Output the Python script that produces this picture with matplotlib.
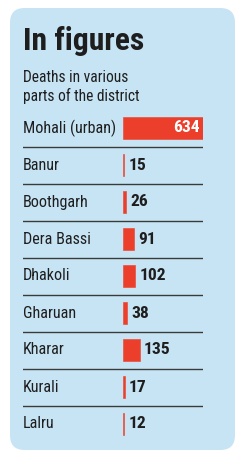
import matplotlib
matplotlib.use("Agg")
import matplotlib.pyplot as plt
from matplotlib.patches import FancyBboxPatch
from matplotlib import font_manager

districts = ["Mohali (urban)", "Banur", "Boothgarh", "Dera Bassi", "Dhakoli",
             "Gharuan", "Kharar", "Kurali", "Lalru"]
deaths = [634, 15, 26, 91, 102, 38, 135, 17, 12]
title = "In figures"
subtitle = ["Deaths in various", "parts of the district"]

# pick a condensed font if one is installed
entries = font_manager.fontManager.ttflist
names = {f.name for f in entries}
family = None
stretch = "normal"
for cand in ["Roboto Condensed", "Liberation Sans Narrow", "Open Sans Condensed",
             "Noto Sans Condensed", "DejaVu Sans Condensed"]:
    if cand in names:
        family = cand
        break
if family is None:
    cond = [f for f in entries if str(f.stretch) in ("condensed", "semi-condensed")
            or (isinstance(f.stretch, int) and f.stretch < 500)]
    if cond:
        family = cond[0].name
        stretch = "condensed"
    else:
        family = "DejaVu Sans"
FAM = [family, "DejaVu Sans"]

W, H = 244, 457
fig = plt.figure(figsize=(W / 100, H / 100), dpi=100)
fig.patch.set_facecolor("white")

BOX = "#c7e4f4"
RED = "#ec3f2b"
TXT = "#1e1e1e"

def fx(px):
    return px / W

def fy(py):
    return 1 - py / H

box = FancyBboxPatch((fx(10), fy(450)), fx(225), (450 - 8) / H,
                     boxstyle="round,pad=0,rounding_size=0.06",
                     transform=fig.transFigure, facecolor=BOX, edgecolor="none",
                     mutation_aspect=W / H, zorder=0)
fig.patches.append(box)

fig.text(fx(23), fy(50), title, family=FAM, stretch=stretch, weight="bold",
         fontsize=22.8, color=TXT, va="baseline", ha="left")
fig.text(fx(23), fy(82), subtitle[0], family=FAM, stretch=stretch, fontsize=11.2,
         color=TXT, va="baseline", ha="left")
fig.text(fx(23), fy(101), subtitle[1], family=FAM, stretch=stretch, fontsize=11.2,
         color=TXT, va="baseline", ha="left")

top_px, bot_px = 109.5, 442.5
ax = fig.add_axes([fx(23), fy(bot_px), fx(203 - 23), (bot_px - top_px) / H])
ax.set_zorder(2)
ax.set_facecolor("none")
scale = (203 - 122.5) / deaths[0]
xmin = -(122.5 - 23) / scale
xmax = (203 - 122.5) / scale
ax.set_xlim(xmin, xmax)
n = len(districts)
ax.set_ylim(n - 0.5, -0.5)
ys = list(range(n))
ax.barh(ys, deaths, height=0.6, color=RED, edgecolor=RED, linewidth=0.4, left=0)
for i in range(n - 1):
    ax.axhline(i + 0.5, color="#3a3a3a", lw=1.0)
for i, (d, v) in enumerate(zip(districts, deaths)):
    ax.text(xmin, i, d, family=FAM, stretch=stretch, fontsize=11.6, color=TXT,
            va="center", ha="left")
    if i == 0:
        ax.text(v - 25, i, str(v), family=FAM, stretch=stretch, weight="bold",
                fontsize=12.6, color="white", va="center", ha="right")
    else:
        ax.text(v + 35, i, str(v), family=FAM, stretch=stretch, weight="bold",
                fontsize=12.6, color=TXT, va="center", ha="left")
ax.axis("off")

fig.savefig("out.png", dpi=100, facecolor="white")
